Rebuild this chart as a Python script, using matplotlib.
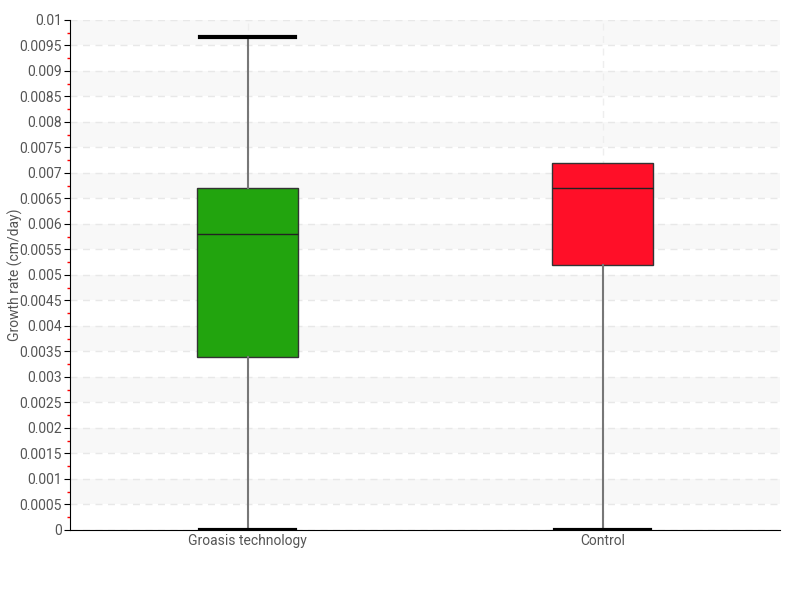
import matplotlib
matplotlib.use("Agg")
import matplotlib.pyplot as plt
import numpy as np
from matplotlib.ticker import MultipleLocator, FuncFormatter

categories = ["Groasis technology", "Control"]
whislo = [0.0, 0.0]
q1 = [0.0034, 0.0052]
med = [0.0058, 0.0067]
q3 = [0.0067, 0.0072]
whishi = [0.00967, 0.0072]
colors = ["#22a40e", "#ff0f28"]

plt.rcParams['font.family'] = ['Roboto', 'DejaVu Sans']
fig = plt.figure(figsize=(8, 6), dpi=100)
ax = fig.add_axes([0.0875, 0.1167, 0.8875, 0.85])

# alternating bands
for k in range(20):
    lo = k * 0.0005
    if k % 2 == 1:
        ax.axhspan(lo, lo + 0.0005, color="#f8f8f8", zorder=0, lw=0)

stats = []
for i, c in enumerate(categories):
    stats.append(dict(label=c, whislo=whislo[i], q1=q1[i], med=med[i],
                      q3=q3[i], whishi=whishi[i], fliers=[]))
bp = ax.bxp(stats, positions=[1, 2], widths=0.282, patch_artist=True,
            showfliers=False,
            boxprops=dict(edgecolor="#333333", linewidth=1),
            medianprops=dict(color="#222222", linewidth=1),
            whiskerprops=dict(color="#777777", linewidth=1.5),
            capprops=dict(color="#000000", linewidth=3),
            capwidths=0.268, zorder=3)
for patch, col in zip(bp['boxes'], colors):
    patch.set_facecolor(col)
# upper cap hidden when whisker equals box top
for i in range(len(categories)):
    if whishi[i] <= q3[i]:
        bp['caps'][2 * i + 1].set_visible(False)

ax.set_xlim(0.5, 2.5)
ax.set_ylim(0, 0.01)
ax.yaxis.set_major_locator(MultipleLocator(0.0005))
ax.yaxis.set_minor_locator(MultipleLocator(0.00025))
ax.yaxis.set_major_formatter(FuncFormatter(lambda v, p: ("%.4f" % v).rstrip('0').rstrip('.') if v != 0 else "0"))
ax.grid(axis='y', which='major', color="#e8e8e8", linestyle=(0, (5, 4)), linewidth=1, zorder=1)
ax.grid(axis='x', which='major', color="#eeeeee", linestyle=(0, (5, 4)), linewidth=1, zorder=1)
ax.set_axisbelow(True)

ax.tick_params(axis='y', which='major', length=4, color='black', labelsize=10, labelcolor="#555555", pad=2)
ax.tick_params(axis='y', which='minor', length=2, color='red', width=1)
ax.tick_params(axis='x', length=0, labelsize=10, labelcolor="#555555", pad=3)
ax.set_xticks([1, 2])
ax.set_xticklabels(categories)

for s in ['top', 'right']:
    ax.spines[s].set_visible(False)
ax.spines['left'].set_color('black')
ax.spines['bottom'].set_color('black')

fig.text(15 / 800, 1 - 275 / 600, "Growth rate (cm/day)", rotation=90, fontsize=10,
         color="#555555", ha='center', va='center')

fig.savefig("out.png", dpi=100)
